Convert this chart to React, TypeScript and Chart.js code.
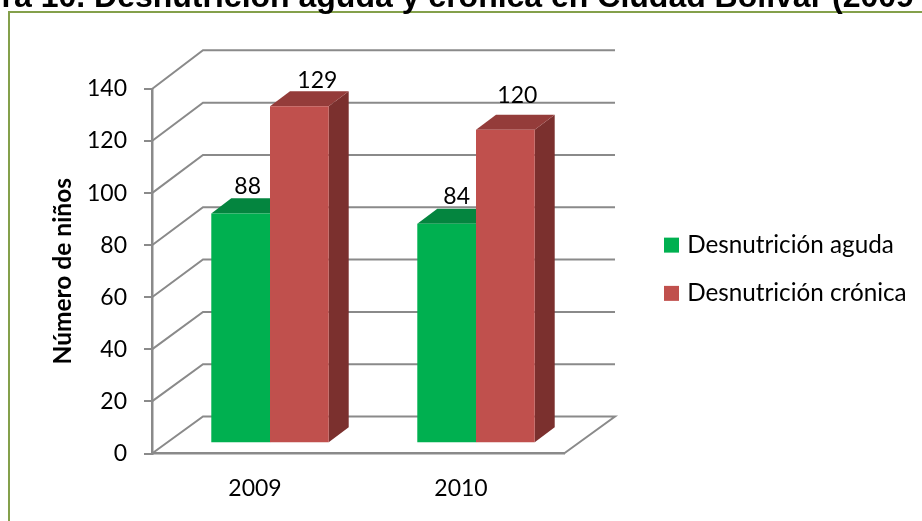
import React, { useEffect, useRef } from "react";
import { Chart, registerables } from "chart.js";

Chart.register(...registerables);

const categories = ["2009", "2010"];
const seriesNames = ["Desnutrición aguda", "Desnutrición crónica"];
const aguda = [88, 84];
const cronica = [129, 120];
const yTicks = [0, 20, 40, 60, 80, 100, 120, 140];
const titleText = "Figura 10. Desnutrición aguda y crónica en Ciudad Bolívar (2009 - 2010)";
const axisTitle = "Número de niños";
const frontColors = ["#00B050", "#C0504D"];
const topColors = ["#04853F", "#943C3A"];
const sideColors = ["#036B32", "#7B302E"];
const labelOffsets = [
  [[7, 27], [10, 27]],
  [[18, 26], [12, 34]],
];

const FONT = "Lato, Carlito, Calibri, sans-serif";
const GRID = "#8A8A8A";
const BAR_DX = 15;
const BAR_BASE = 443.3;
const BAR_K = 1.0035;
const DEPTH_X = 51;
const BAR_DEPTH_X = 20;
const BAR_DEPTH_Y = 15;

const scene = {
  id: "scene",
  beforeDraw(chart: any) {
    const { ctx } = chart;
    ctx.save();
    ctx.strokeStyle = "#84A04B";
    ctx.lineWidth = 2;
    ctx.strokeRect(9, 12, 1200, 1000);
    ctx.fillStyle = "#000";
    ctx.font = "bold 32px 'Liberation Sans', Arial, sans-serif";
    ctx.textBaseline = "alphabetic";
    ctx.textAlign = "left";
    ctx.fillText(titleText, -66, 7);
    ctx.restore();
  },
  beforeDatasetsDraw(chart: any) {
    const { ctx, chartArea, scales } = chart;
    const y = scales.y;
    const backBase = 416.5;
    const backRight = chartArea.right + DEPTH_X;
    ctx.save();
    ctx.strokeStyle = GRID;
    ctx.lineWidth = 2;
    yTicks.forEach((t) => {
      const fy = y.getPixelForValue(t);
      const by = backBase + (fy - y.getPixelForValue(0)) * 1.0046;
      ctx.beginPath();
      ctx.moveTo(chartArea.left, fy);
      ctx.lineTo(chartArea.left + DEPTH_X, by);
      ctx.lineTo(backRight, by);
      if (t === 0) ctx.lineTo(chartArea.right, fy);
      ctx.stroke();
    });
    ctx.restore();

    ctx.save();
    ctx.transform(1, 0, 0, BAR_K, BAR_DX, BAR_BASE - chartArea.bottom * BAR_K);
    [0, 1].forEach((ds) => {
      chart.getDatasetMeta(ds).data.forEach((bar: any) => {
        const l = bar.x - bar.width / 2;
        const r = bar.x + bar.width / 2;
        ctx.fillStyle = sideColors[ds];
        ctx.beginPath();
        ctx.moveTo(r, bar.y);
        ctx.lineTo(r + BAR_DEPTH_X, bar.y - BAR_DEPTH_Y);
        ctx.lineTo(r + BAR_DEPTH_X, bar.base - BAR_DEPTH_Y);
        ctx.lineTo(r, bar.base);
        ctx.closePath();
        ctx.fill();
        ctx.fillStyle = topColors[ds];
        ctx.beginPath();
        ctx.moveTo(l, bar.y);
        ctx.lineTo(l + BAR_DEPTH_X, bar.y - BAR_DEPTH_Y);
        ctx.lineTo(r + BAR_DEPTH_X, bar.y - BAR_DEPTH_Y);
        ctx.lineTo(r, bar.y);
        ctx.closePath();
        ctx.fill();
      });
    });
  },
  afterDatasetsDraw(chart: any) {
    const { ctx } = chart;
    ctx.fillStyle = "#000";
    ctx.font = `23px ${FONT}`;
    ctx.textAlign = "center";
    ctx.textBaseline = "middle";
    [0, 1].forEach((ds) => {
      const values = ds === 0 ? aguda : cronica;
      chart.getDatasetMeta(ds).data.forEach((bar: any, i: number) => {
        const [ox, oy] = labelOffsets[ds][i];
        ctx.fillText(String(values[i]), bar.x + ox, bar.y - oy);
      });
    });
    ctx.restore();
  },
  afterLayout(chart: any) {
    const lg = chart.legend;
    if (lg) {
      lg.left = 668 - 24;
      lg.right = 922;
      lg.top = 233 - 24;
      lg.bottom = 340;
    }
  },
};

export default function App() {
  const ref = useRef<HTMLCanvasElement>(null);
  useEffect(() => {
    const chart = new Chart(ref.current!, {
      type: "bar",
      data: {
        labels: categories,
        datasets: [
          { label: seriesNames[0], data: aguda, backgroundColor: frontColors[0], clip: false },
          { label: seriesNames[1], data: cronica, backgroundColor: frontColors[1], clip: false },
        ],
      } as any,
      plugins: [scene],
      options: {
        responsive: false,
        animation: false,
        layout: { padding: { left: 48, top: 89, right: 358, bottom: 0 } },
        datasets: { bar: { categoryPercentage: 0.57, barPercentage: 1 } },
        plugins: {
          legend: {
            position: "chartArea",
            align: "start",
            labels: {
              boxWidth: 7,
              boxHeight: 7,
              padding: 24,
              color: "#000",
              font: { family: FONT, size: 24.25 },
              generateLabels: (chart: any) =>
                Chart.defaults.plugins.legend.labels.generateLabels(chart).map((item: any) => ({
                  ...item,
                  strokeStyle: item.fillStyle,
                  lineWidth: 8,
                })),
            },
          },
          tooltip: { enabled: false },
        },
        scales: {
          x: {
            grid: { display: false },
            border: { color: GRID, width: 2.5 },
            ticks: { color: "#000", font: { family: FONT, size: 23 }, padding: 13, maxRotation: 0 },
            afterFit: (s: any) => { s.height = 521 - 453.5; },
          },
          y: {
            min: 0,
            max: 140,
            afterBuildTicks: (s: any) => { s.ticks = yTicks.map((value) => ({ value })); },
            grid: { drawOnChartArea: false, tickLength: 8, color: GRID, lineWidth: 2 },
            border: { color: GRID, width: 2.5 },
            ticks: { color: "#000", font: { family: FONT, size: 23 }, padding: 17 },
            title: {
              display: true,
              text: axisTitle,
              color: "#000",
              font: { family: FONT, size: 24.5, weight: "bold" },
              padding: { top: 0, bottom: 0 },
            },
            afterFit: (s: any) => { s.width = 152 - 48; },
          },
        },
      } as any,
    });
    return () => chart.destroy();
  }, []);
  return (
    <canvas
      ref={ref}
      width={922}
      height={521}
      style={{ position: "fixed", left: 0, top: 0, width: 922, height: 521, display: "block" }}
    />
  );
}
